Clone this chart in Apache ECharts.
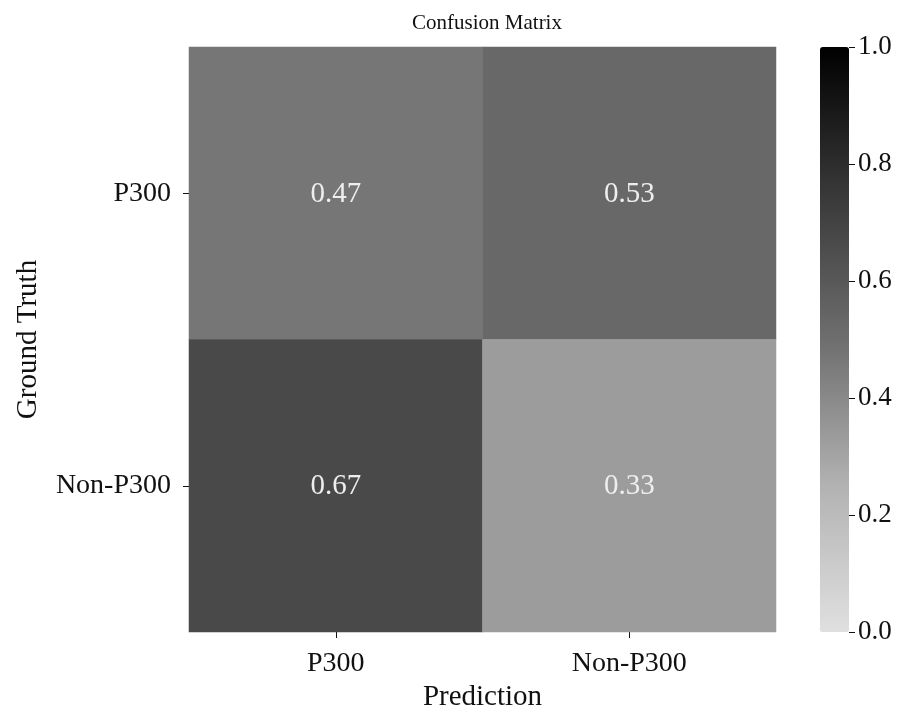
<!DOCTYPE html>
<html><head><meta charset="utf-8">
<script src="https://cdn.jsdelivr.net/npm/echarts@6/dist/echarts.min.js"></script>
<style>html,body{margin:0;padding:0;background:#fff}#c{width:906px;height:713px}</style>
</head><body><div id="c"></div>
<script>
const title = 'Confusion Matrix';
const predCategories = ['P300', 'Non-P300'];
const truthCategories = ['P300', 'Non-P300'];
const rowP300 = [0.47, 0.53];
const rowNonP300 = [0.67, 0.33];
const colorbarTicks = [0, 0.2, 0.4, 0.6, 0.8, 1.0];

const rows = [rowP300, rowNonP300];
const data = [];
rows.forEach((r, yi) => r.forEach((v, xi) => data.push([xi, yi, v])));

const font = 'Liberation Serif, Times New Roman, serif';
const chart = echarts.init(document.getElementById('c'));
chart.setOption({
  backgroundColor: '#fff',
  animation: false,
  title: { text: title, left: 482, textAlign: 'center', top: 8,
    textStyle: { fontFamily: font, fontSize: 21, fontWeight: 'normal', color: '#111' } },
  grid: [
    { left: 189, top: 47, width: 587, height: 585, containLabel: false, outerBoundsMode: 'none' },
    { left: 849, top: 47, width: 20, height: 585, containLabel: false, outerBoundsMode: 'none' }
  ],
  xAxis: [
    { type: 'category', data: predCategories, gridIndex: 0,
      name: 'Prediction', nameLocation: 'middle', nameGap: 51,
      nameTextStyle: { fontFamily: font, fontSize: 29, color: '#111' },
      axisLine: { show: false }, splitLine: { show: false },
      axisTick: { show: true, alignWithLabel: true, length: 6, lineStyle: { color: '#111' } },
      axisLabel: { fontFamily: font, fontSize: 28, color: '#111', margin: 18 } },
    { type: 'value', gridIndex: 1, show: false, min: 0, max: 1 }
  ],
  yAxis: [
    { type: 'category', data: truthCategories, gridIndex: 0, inverse: true,
      name: 'Ground Truth', nameLocation: 'middle', nameGap: 146,
      nameTextStyle: { fontFamily: font, fontSize: 29, color: '#111' },
      axisLine: { show: false }, splitLine: { show: false },
      axisTick: { show: true, alignWithLabel: true, length: 6, lineStyle: { color: '#111' } },
      axisLabel: { fontFamily: font, fontSize: 28, color: '#111', margin: 18 } },
    { type: 'value', gridIndex: 1, position: 'left', min: 0, max: 1, interval: 0.2, z: 10,
      axisLine: { show: false }, splitLine: { show: false },
      axisTick: { show: true, inside: true, length: 6, lineStyle: { color: '#111' } },
      axisLabel: { inside: true, fontFamily: font, fontSize: 27, color: '#111', margin: 9,
        formatter: v => colorbarTicks.includes(+v.toFixed(1)) ? v.toFixed(1) : '' } }
  ],
  visualMap: {
    type: 'continuous', min: 0, max: 1, calculable: false, seriesIndex: 0,
    left: 820, top: 47, itemWidth: 29, itemHeight: 585, padding: 0,
    text: null, showLabel: false, orient: 'vertical',
    inRange: { color: ['#e0e0e0', '#b2b2b2', '#6e6e6e', '#383838', '#000000'] }
  },
  series: [{
    type: 'heatmap', xAxisIndex: 0, yAxisIndex: 0, data: data,
    label: { show: true, fontFamily: font, fontSize: 29, color: '#eeeeee', offset: [0, 1],
      formatter: p => p.value[2].toFixed(2) },
    itemStyle: { borderWidth: 0 },
    emphasis: { disabled: true }
  }]
});
</script></body></html>
